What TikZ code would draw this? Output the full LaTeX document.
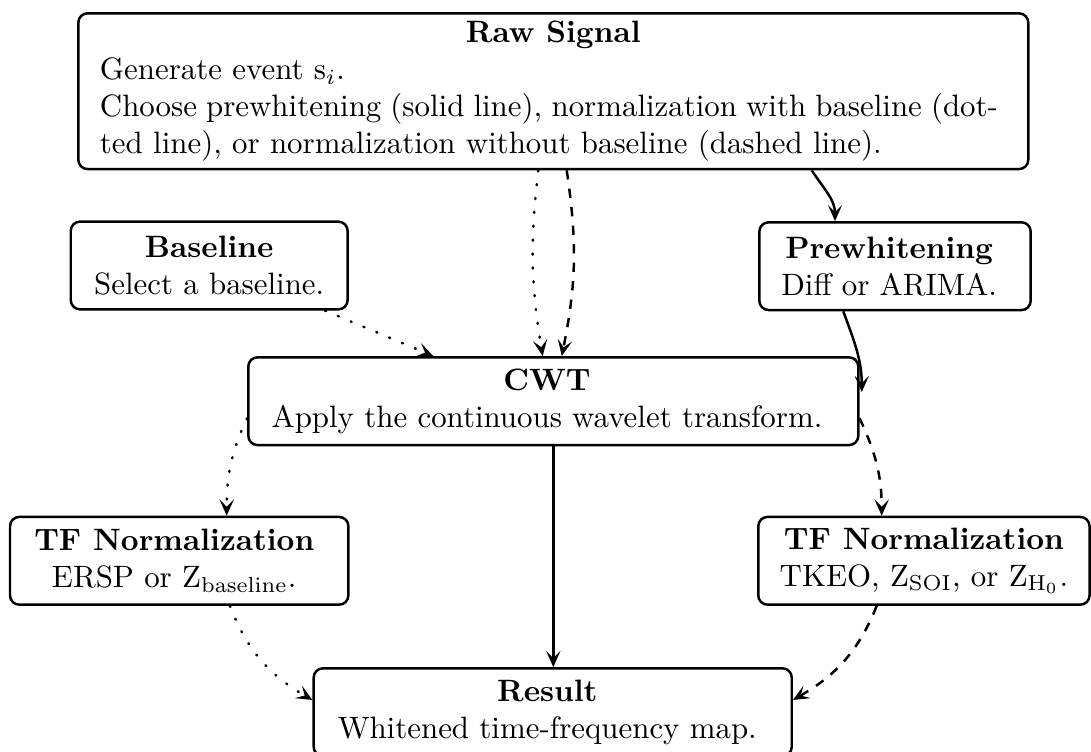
\documentclass[tikz,border=0pt]{standalone}
\usetikzlibrary{calc,arrows.meta}
\setlength{\parindent}{0pt}

% trailing pad that moves a centred block slightly to the left
\newcommand\rpad[1][3.8pt]{\hspace*{#1}}

% one drawing unit = one pixel of the final image (y grows upwards, so rows are negative)
\tikzset{
  x=0.3236pt, y=0.3236pt,
  boxframe/.style={draw, thick, rounded corners=3pt},
  stage/.style={boxframe, align=center, inner sep=0pt, minimum height=28.4pt},
  flow/.style={-{Stealth[length=5.2pt,width=4.6pt,inset=2.3pt]}, thick},
  withbase/.style={flow, dash pattern=on 0.35pt off 4.15pt, line cap=round},
  nobase/.style={flow, dashed},
}

\begin{document}
\begin{tikzpicture}
\useasboundingbox (0,0) rectangle (1091,-751);

% stages
\node[boxframe, text width=293.4pt, align=justify, inner xsep=7pt, inner ysep=0pt,
      minimum height=50.4pt] (raw) at (553.3,-91.2)
  {{\centering\textbf{Raw Signal}\par}%
   \rightskip=2.8pt
   Generate event s$_i$.\newline
   Choose prewhitening (solid line), normalization with baseline (dot-\linebreak
   ted line), or normalization without baseline (dashed line).\par};

\node[stage, minimum width=89.6pt]  (base) at (209.2,-265.5)
  {\textbf{Baseline}\\Select a baseline.};
\node[stage, minimum width=87.8pt]  (prew) at (895,-266.2)
  {\textbf{Prewhitening}\rpad\\Diff or ARIMA.\rpad};
\node[stage, minimum width=197.4pt] (cwt)  at (553.3,-401.2)
  {\textbf{CWT}\rpad[4.1pt]\\Apply the continuous wavelet transform.\rpad[4.1pt]};
\node[stage, minimum width=109.5pt] (tfl)  at (179.2,-560.8)
  {\textbf{TF Normalization}\rpad[3.2pt]\\ERSP or Z$_{\mathrm{baseline}}$.\rpad[3.2pt]};
\node[stage, minimum width=107.2pt] (tfr)  at (923.9,-560.8)
  {\textbf{TF Normalization}\\TKEO, Z$_{\mathrm{SOI}}$, or Z$_{\mathrm{H}_0}$.};
\node[stage, minimum width=154.7pt] (res)  at (552.7,-712.2)
  {\textbf{Result}\rpad[3.5pt]\\Whitened time-frequency map.\rpad[3.5pt]};

% normalization with baseline (dotted)
\draw[withbase] ($(raw.south)+(-15,0)$) to[bend right=8] ($(cwt.north)+(-10.6,0)$);
\draw[withbase] ($(base.south)+(115.8,0)$) -- ($(cwt.north)+(-120,0)$);
\draw[withbase] ($(cwt.west)+(0,-17)$) to[out=-115,in=90] ($(tfl.north)+(47.5,0)$);
\draw[withbase] ($(tfl.south)+(50.8,0)$) to[out=-69,in=150] ($(res.west)+(0,12.2)$);

% normalization without baseline (dashed)
\draw[nobase] ($(raw.south)+(13.4,0)$) to[bend left=10] ($(cwt.north)+(8.4,0)$);
\draw[nobase] ($(cwt.east)+(0,-17)$) to[out=-65,in=90] ($(tfr.north)+(-42.2,0)$);
\draw[nobase] ($(tfr.south)+(-47.2,0)$) to[out=-112,in=30] ($(res.east)+(0,12.2)$);

% prewhitening (solid)
\draw[flow] ($(raw.south)+(258.4,0)$) to[out=-57,in=90] ($(prew.north)+(-60,0)$);
\draw[flow] ($(prew.south)+(-51.7,0)$) to[out=-70,in=90] ($(cwt.east)+(2.2,9.2)$);
\draw[flow] (cwt.south) -- (cwt.south |- res.north);
\end{tikzpicture}
\end{document}
